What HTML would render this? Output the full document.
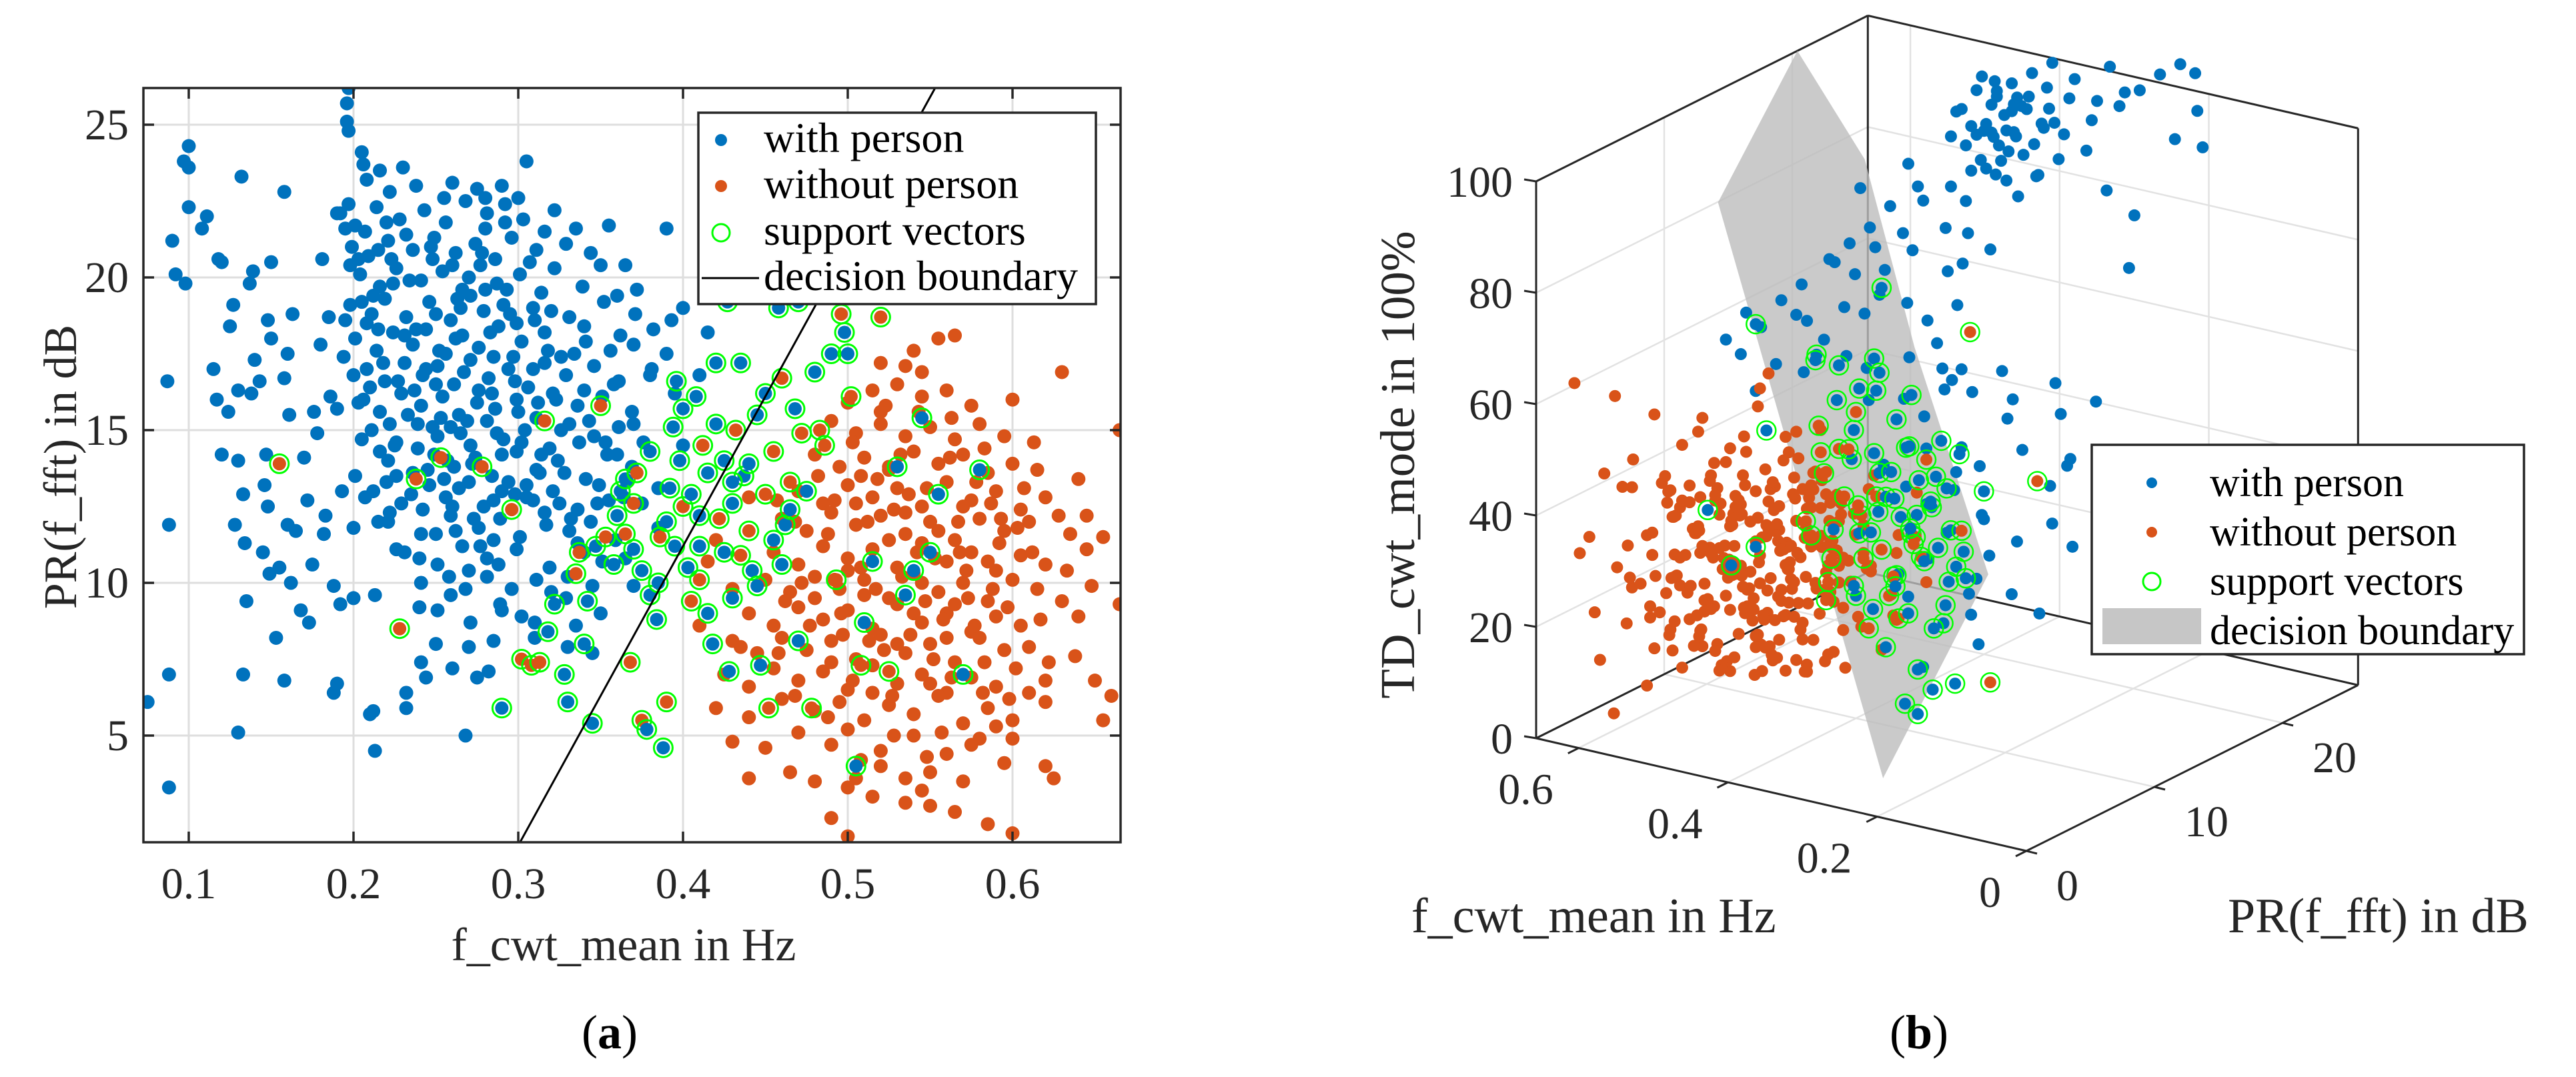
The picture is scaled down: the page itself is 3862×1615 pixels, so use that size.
<!DOCTYPE html>
<html><head><meta charset="utf-8">
<style>
html,body{margin:0;padding:0;background:#fff;}
svg{display:block;}
svg text{font-family:"Liberation Serif","Times New Roman","Noto Serif CJK SC",serif !important;}
</style></head>
<body>
<svg id="chart" width="3862" height="1615" viewBox="0 0 3862 1615" xmlns="http://www.w3.org/2000/svg">
<defs><clipPath id="clipA"><rect x="215" y="132" width="1465" height="1131"/></clipPath></defs>
<rect x="0" y="0" width="3862" height="1615" fill="#fff"/>
<g id="panelA"></g>
<g id="panelB"></g>
<text x="98" y="700" font-size="70" fill="#262626" text-anchor="middle" transform="rotate(-90 98 700)" dominant-baseline="middle">PR(f_fft) in dB</text>
<text x="935" y="1440" font-size="70" fill="#262626" text-anchor="middle">f_cwt_mean in Hz</text>
<text x="914" y="1572" font-size="72" fill="#000" text-anchor="middle">(<tspan font-weight="bold">a</tspan>)</text>
<text x="2103" y="697" font-size="73" fill="#262626" text-anchor="middle" transform="rotate(-90 2103 697)" dominant-baseline="middle">TD_cwt_mode in 100%</text>
<text x="2116" y="1398" font-size="74" fill="#262626">f_cwt_mean in Hz</text>
<text x="3340" y="1398" font-size="74" fill="#262626">PR(f_fft) in dB</text>
<text x="2877" y="1572" font-size="72" fill="#000" text-anchor="middle">(<tspan font-weight="bold">b</tspan>)</text>
</svg>
<script>
// ---------- Panel (a) data ----------
const xTicksA=[0.1,0.2,0.3,0.4,0.5,0.6];
const yTicksA=[5,10,15,20,25];
const boundaryA=[0.301,1.5,0.553,26.2];
const withPersonA=[
0.075,6.1,0.088,3.3,0.088,7.0,0.088,11.9,0.087,16.6,0.09,21.2,0.092,20.1,0.098,19.8,0.097,23.8,0.1,24.3,0.1,23.6,0.1,22.3,0.108,21.6,0.111,22.0,0.115,17.0,0.117,16.0,0.118,20.6,0.12,20.5,0.12,14.2,0.124,15.6,0.125,18.4,0.127,19.1,0.128,11.9,0.13,5.1,0.13,14.0,0.13,16.3,0.132,23.3,0.133,12.9,0.134,11.3,0.133,7.0,0.135,9.4,0.138,16.2,0.137,19.8,0.139,20.2,0.14,17.3,0.143,16.6,0.145,11.0,0.146,13.2,0.147,14.2,0.148,18.6,0.148,12.5,0.149,10.3,0.15,18.0,0.15,20.5,0.153,8.2,0.155,10.5,0.158,22.8,0.158,16.7,0.158,6.8,0.16,11.9,0.16,17.5,0.161,15.5,0.162,10.0,0.163,18.8,0.165,11.7,0.168,9.1,0.17,14.1,0.172,12.7,0.173,8.7,0.175,10.6,0.176,15.6,0.178,14.9,0.18,17.8,0.181,20.6,0.182,11.6,0.183,12.2,0.185,18.7,0.186,16.1,0.188,9.9,0.188,6.4,0.19,15.7,0.19,6.7,0.192,22.1,0.192,9.3,0.193,13.0,0.194,17.4,0.195,21.6,0.196,25.7,0.196,25.1,0.197,26.2,0.197,24.8,0.197,22.4,0.198,20.4,0.2,11.8,0.2,9.5,0.201,13.5,0.203,15.9,0.205,19.2,0.205,24.1,0.206,23.7,0.207,12.8,0.208,18.5,0.21,5.7,0.212,5.8,0.213,4.5,0.213,9.6,0.215,20.9,0.216,23.5,0.22,21.8,0.222,12.3,0.225,14.5,0.23,23.6,0.232,6.4,0.232,5.9,0.24,9.2,0.241,7.4,0.244,6.9,0.25,8.0,0.26,7.2,0.268,5.0,0.27,7.9,0.275,6.9,0.282,7.1,0.285,8.1,0.29,9.1,0.305,23.8,0.31,8.7,0.28,22.6,
0.19,22.1,0.201,21.7,0.214,22.3,0.228,21.9,0.243,22.2,0.256,21.8,0.268,22.5,0.281,22.1,0.292,22.4,0.303,21.9,
0.199,21.0,0.209,20.7,0.221,21.2,0.236,20.9,0.249,21.3,0.262,20.8,0.274,21.1,0.286,20.6,0.296,21.3,0.311,20.9,0.329,21.1,0.344,20.8,
0.204,20.1,0.216,19.7,0.226,20.3,0.241,19.9,0.254,20.2,0.266,19.6,0.277,20.4,0.287,19.8,0.301,20.1,0.314,19.5,0.322,20.3,0.339,19.7,
0.198,19.1,0.211,18.8,0.219,19.3,0.232,18.7,0.246,19.2,0.259,18.6,0.271,19.4,0.279,18.9,0.291,19.1,0.299,18.5,0.309,19.0,0.331,18.7,0.352,19.2,0.371,18.8,
0.201,18.0,0.214,17.6,0.224,18.2,0.236,17.8,0.244,18.3,0.256,17.5,0.266,18.1,0.276,17.7,0.288,18.4,0.302,17.9,0.316,18.2,0.326,17.4,0.341,17.9,0.356,17.6,
0.208,17.0,0.219,16.6,0.231,17.2,0.242,16.8,0.251,17.1,0.261,16.5,0.271,17.3,0.282,16.7,0.294,17.0,0.306,16.4,0.316,17.2,0.329,16.8,0.346,17.1,0.361,16.6,0.381,17.0,
0.206,16.0,0.216,15.6,0.229,16.2,0.241,15.8,0.254,16.1,0.264,15.5,0.276,16.3,0.286,15.7,0.299,16.0,0.311,15.4,0.321,16.2,0.336,15.8,0.351,16.1,0.369,15.6,
0.211,15.0,0.226,14.6,0.239,15.2,0.251,14.8,0.259,15.1,0.271,14.5,0.281,15.3,0.291,14.7,0.304,15.0,0.319,14.4,0.331,15.2,0.346,14.8,0.361,15.1,0.376,14.6,
0.221,14.0,0.236,13.6,0.249,14.2,0.261,13.8,0.274,14.1,0.284,13.5,0.299,14.3,0.311,13.7,0.324,14.0,0.341,13.4,0.354,14.2,0.369,13.8,
0.212,13.0,0.229,12.6,0.246,13.2,0.256,12.8,0.264,13.1,0.279,12.5,0.294,13.3,0.309,12.7,0.321,13.0,0.336,12.4,0.349,13.2,0.364,12.8,
0.221,12.0,0.241,11.6,0.259,12.2,0.276,11.8,0.289,12.1,0.301,11.5,0.316,12.3,0.331,11.7,0.344,12.0,0.359,11.4,
0.231,11.0,0.251,10.6,0.266,11.2,0.281,10.8,0.299,11.1,0.319,10.5,0.336,11.3,0.351,10.7,
0.241,10.0,0.259,9.6,0.281,10.2,0.296,9.8,0.311,10.1,0.329,9.5,
0.251,9.1,0.271,8.7,0.289,9.3,0.302,8.9,
0.207,21.5,0.223,20.6,0.248,20.6,0.27,20.0,0.293,19.6,0.215,18.3,0.238,18.3,0.262,18.0,0.285,17.4,0.227,16.6,0.25,16.5,0.275,15.9,0.3,15.6,0.233,15.5,0.265,14.9,0.29,14.2,0.245,13.7,0.27,13.3,0.305,13.2,0.26,12.5,0.285,11.4,0.325,12.6,0.34,16.3,0.318,17.6,0.31,18.6,0.28,21.6,0.255,22.6,0.265,19.0,
0.365,20.4,0.372,19.6,0.39,21.6,0.393,18.6,0.4,19.0,0.37,17.8,0.382,18.3,0.395,16.2,0.38,16.8,0.41,16.8,0.415,18.2,0.36,14.2,0.375,12.6,0.385,13.1,0.365,10.8,0.37,9.9,0.385,11.8,0.39,17.5,0.4,14.5,
0.33,7.9,0.335,8.6,0.345,7.7,0.35,9.0,0.31,8.2,0.32,9.7,
0.203,20.6,0.212,19.4,0.218,17.2,0.222,15.2,0.226,13.5,0.232,21.4,0.234,19.9,0.237,16.3,0.239,14.4,0.242,12.4,0.247,21.0,0.25,18.8,0.252,17.6,0.253,15.4,0.257,14.0,0.26,20.4,0.263,19.3,0.267,16.9,0.269,15.3,0.272,13.9,0.273,12.1,0.278,20.8,0.28,19.6,0.283,18.2,0.284,16.2,0.287,14.9,0.29,13.0,0.292,21.8,0.295,18.8,0.297,17.4,0.298,16.6,0.302,14.6,0.305,12.8,0.307,20.5,0.309,17.0,0.312,15.9,0.314,14.2,0.317,11.9,0.32,18.9,0.323,16.0,0.326,15.0,0.328,13.6,0.332,12.1,0.334,17.5,0.337,14.6,0.34,18.4,0.343,15.3,0.348,12.6,0.353,14.6,0.358,16.5,0.362,18.1,0.366,13.3,0.37,15.2,0.21,16.4,0.216,14.3,0.22,13.3,0.224,19.8,0.231,18.1,0.244,17.0,0.248,15.1,0.255,13.4,0.262,11.7,0.27,10.4,0.277,11.2,0.288,10.6,0.298,12.9,0.24,10.8,0.25,11.6,0.258,10.2,0.268,9.8,0.235,12.9,0.226,11.1,0.215,12.0,0.205,14.7,0.2,16.8,0.195,18.6,0.208,23.2,0.222,22.8,0.238,23.0,0.26,23.1,0.275,22.9,0.29,23.0,0.3,22.6,0.316,21.5,0.322,22.2,0.335,21.6,0.35,20.4,0.355,21.7,0.36,19.4,0.313,13.6,0.285,12.7,0.33,10.2,0.345,9.9,0.34,11.0,0.355,12.7
];
const withoutPersonA=[
0.52,17.2,0.54,17.6,0.555,18.0,0.565,18.1,0.535,17.1,0.6,16.0,0.63,16.9,0.545,16.9,
0.5,15.9,0.515,16.3,0.53,16.5,0.545,16.1,0.56,16.3,0.575,15.8,0.52,15.6,
0.49,15.3,0.505,14.9,0.52,15.2,0.535,14.8,0.55,15.1,0.565,14.7,0.58,15.2,0.595,14.8,0.665,15.0,
0.48,14.2,0.495,13.8,0.51,14.1,0.525,13.7,0.54,14.3,0.555,13.9,0.57,14.2,0.585,13.6,0.6,13.9,0.615,13.7,0.64,13.4,
0.47,13.0,0.485,12.6,0.5,13.2,0.515,12.8,0.53,13.1,0.545,12.5,0.56,13.3,0.575,12.7,0.59,13.0,0.605,12.4,0.62,12.8,0.645,12.2,
0.46,12.1,0.475,11.7,0.49,12.3,0.505,11.9,0.52,12.2,0.535,11.6,0.55,12.0,0.565,11.4,0.58,12.1,0.595,11.7,0.61,12.0,0.635,11.6,0.655,11.5,
0.455,11.0,0.47,10.6,0.485,11.2,0.5,10.8,0.515,11.1,0.53,10.5,0.545,11.3,0.56,10.7,0.575,11.0,0.59,10.4,0.605,10.9,0.62,10.6,0.645,11.1,
0.45,10.1,0.465,9.7,0.48,10.2,0.495,9.8,0.51,10.1,0.525,9.5,0.54,10.3,0.555,9.7,0.57,10.0,0.585,9.4,0.6,10.1,0.615,9.8,0.665,9.3,
0.44,9.0,0.455,8.6,0.47,9.2,0.485,8.8,0.5,9.1,0.515,8.5,0.53,9.3,0.545,8.7,0.56,9.0,0.575,8.4,0.59,8.9,0.605,8.6,0.63,9.4,0.64,8.9,
0.43,8.1,0.445,7.7,0.46,8.2,0.475,7.8,0.49,8.1,0.505,7.5,0.52,8.3,0.535,7.7,0.55,8.0,0.565,7.4,0.58,8.2,0.595,7.8,0.61,7.9,
0.425,7.0,0.44,6.6,0.455,7.2,0.47,6.8,0.485,7.1,0.5,6.5,0.515,7.3,0.53,6.7,0.545,7.0,0.56,6.4,0.575,6.9,0.59,6.6,0.62,6.8,0.65,6.8,
0.42,5.9,0.44,5.6,0.46,6.2,0.48,5.8,0.495,6.1,0.51,5.5,0.525,6.0,0.54,5.7,0.555,6.3,0.57,5.4,0.585,5.9,0.6,5.5,0.62,6.1,0.66,6.3,
0.43,4.8,0.45,4.6,0.47,5.1,0.49,4.7,0.5,5.2,0.52,4.5,0.54,5.0,0.56,4.4,0.58,4.9,0.6,4.9,0.655,5.5,
0.44,3.6,0.465,3.8,0.48,3.5,0.5,3.3,0.52,4.0,0.535,3.6,0.55,3.8,0.57,3.5,0.595,4.1,0.625,3.6,0.62,4.0,
0.49,2.3,0.5,1.7,0.515,3.0,0.535,2.8,0.55,2.7,0.565,2.5,0.585,2.1,0.6,1.8,
0.505,12.6,0.525,11.4,0.545,10.0,0.565,9.3,0.51,9.6,0.53,8.0,0.55,6.7,0.49,7.4,0.57,12.5,0.525,13.8,0.5,10.4,0.54,9.0,0.56,8.2,0.585,10.7,0.48,9.5,0.515,6.4,0.535,12.3,0.555,11.7,
0.42,11.4,0.43,9.8,0.41,8.6,0.44,12.8,0.415,10.7,0.435,7.9,
0.482,13.5,0.488,11.6,0.492,10.1,0.497,8.3,0.503,6.8,0.508,13.5,0.512,12.0,0.517,9.8,0.522,7.8,0.527,6.3,0.532,14.2,0.537,12.9,0.542,11.0,0.547,9.4,0.552,7.5,0.557,5.1,0.562,14.1,0.567,12.0,0.572,10.4,0.577,8.6,0.582,6.4,0.587,12.6,0.592,11.3,0.597,9.2,0.602,7.2,0.607,13.1,0.612,11.0,0.617,8.8,0.622,7.4,0.492,12.7,0.496,9.0,0.508,10.5,0.513,8.1,0.518,13.4,0.528,12.4,0.533,10.2,0.538,8.3,0.548,13.1,0.553,10.8,0.558,8.8,0.563,6.9,0.568,11.0,0.573,9.5,0.578,13.3,0.583,7.4,0.588,9.8,0.593,12.1,0.598,6.2,0.603,11.8,0.468,12.0,0.472,10.0,0.477,8.6,0.462,9.4,0.457,12.7,0.503,14.6,0.523,15.8,0.543,15.6,0.563,15.4,0.583,14.4,0.613,14.6,0.628,12.2,0.633,10.4,0.638,7.6,0.648,9.9,0.528,5.0,0.548,4.3,0.508,4.2,0.488,5.6,0.468,6.3,0.458,7.7,0.505,3.6,0.545,3.2,0.575,4.7,0.59,5.3,0.61,6.4
];
const supportVectorsA=[
0.155,13.9,1,0.228,8.5,1,0.238,13.4,1,0.253,14.1,1,0.278,13.8,1,0.29,5.9,0,0.296,12.4,1,0.316,15.3,1,0.302,7.5,1,0.308,7.3,1,0.313,7.4,1,0.318,8.4,0,0.322,9.3,0,0.328,7.0,0,0.33,6.1,0,0.335,10.3,1,0.337,11.0,1,0.34,8.0,0,0.342,9.4,0,0.345,5.4,0,0.347,11.2,0,0.35,15.8,1,0.353,11.5,1,0.358,10.6,0,0.362,13.0,0,0.365,13.4,0,0.368,7.4,1,0.37,12.6,1,0.372,13.6,1,0.375,5.5,1,0.378,5.2,0,0.38,9.6,0,0.384,8.8,0,0.386,11.5,1,0.388,4.6,0,0.39,6.1,1,0.392,13.1,0,0.394,15.1,0,0.396,16.6,0,0.398,14.0,0,0.4,12.5,1,0.403,10.5,0,0.405,9.4,1,0.408,16.1,0,0.41,11.2,0,0.412,14.5,1,0.415,13.6,0,0.418,8.0,0,0.42,17.2,0,0.422,12.1,1,0.425,11.0,0,0.428,7.1,0,0.43,9.5,0,0.432,15.0,1,0.435,17.2,0,0.437,13.5,0,0.44,11.7,1,0.442,10.4,0,0.445,15.5,0,0.447,7.3,0,0.45,12.9,1,0.452,5.9,1,0.455,14.3,1,0.458,19.0,0,0.46,16.7,1,0.462,11.9,0,0.465,13.3,1,0.468,15.7,0,0.47,8.1,0,0.472,14.9,1,0.475,13.0,0,0.478,5.9,1,0.48,16.9,0,0.483,15.0,1,0.486,14.5,1,0.49,17.5,0,0.493,10.1,1,0.496,18.8,1,0.498,18.2,0,0.5,17.5,0,0.502,16.1,1,0.505,4.0,0,0.508,7.3,1,0.51,8.7,0,0.515,10.7,0,0.52,18.7,1,0.53,13.8,0,0.535,9.6,0,0.54,10.4,0,0.545,15.4,0,0.55,11.0,0,0.555,12.9,0,0.57,7.0,0,0.58,13.7,0,0.525,7.1,1,0.47,19.2,0,0.427,19.2,0,
0.36,12.2,0,0.365,11.6,1,0.375,10.4,0,0.38,14.3,0,0.395,11.2,0,0.405,12.9,0,0.41,10.1,1,0.415,9.0,0,0.425,14.0,0,0.43,12.6,0,0.435,10.9,1,0.44,13.9,0,0.445,9.9,0,0.455,11.4,0,0.46,10.6,0,0.465,12.4,0,0.42,15.2,0,0.4,15.7,0,0.39,12.0,0,0.385,10.0,0,0.37,11.1,0,0.45,16.2,0,0.43,13.3,0,0.41,12.2,0
];
// ---------- Panel (b) data ----------
const fTicksB=[0,0.2,0.4,0.6];
const pTicksB=[0,10,20];
const zTicksB=[0,20,40,60,80,100];
const fRangeB=[0,0.657], pRangeB=[0,25.9], zRangeB=[0,100];
const planeB=[0.657,20.4,100, 0.396,10.45,100, 0.15,0,85.9, 0.051,0,48.1, 0.265,4.25,0, 0.657,14.2,79.9];
const withPersonB=[
0.32,20,97,0.33,21,99,0.34,19,96,0.35,20,100,0.36,21,98,0.37,19,95,0.33,19,93,0.35,22,101,0.38,21,97,0.31,21,95,0.34,20,102,0.36,19,91,0.32,22,100,0.37,22,103,0.39,20,94,0.3,20,92,0.35,18,90,0.33,23,102,0.4,21,99,0.38,19,89,0.31,19,90,0.36,23,104,0.34,22,95,0.41,20,93,0.29,22,97,0.28,21,93,0.27,23,99,0.26,24,101,0.25,25,103,0.3,24,104,0.42,22,100,0.4,19,88,0.37,20,86,0.35,21,92,0.39,22,98,0.33,20,88,0.32,18,87,0.3,23,99,0.28,24,100,0.36,20,95,
0.24,26,104,0.22,26,103,0.2,25,98,0.23,25,92,0.21,26,90,0.27,22,85,0.25,23,80,0.24,22,72,
0.42,16,88,0.44,15,85,0.45,14,82,0.43,17,84,0.46,13,80,0.47,12,78,0.48,13,76,0.46,15,77,0.44,16,79,0.49,11,74,0.5,10,72,0.48,10,70,0.47,14,73,0.51,9,68,0.5,12,66,0.45,12,70,0.43,14,75,0.41,15,78,0.4,17,80,0.42,13,72,0.52,8,64,0.49,9,62,0.46,11,65,0.44,13,68,0.4,14,70,0.38,16,74,0.39,15,66,0.43,11,63,0.47,10,60,0.5,8,58,0.41,18,86,0.39,18,84,0.37,17,80,0.36,16,76,0.45,17,90,0.48,15,87,0.53,9,70,0.54,8,66,0.42,12,60,0.38,13,62,0.36,14,64,0.35,15,70,0.34,17,78,0.37,15,58,0.4,11,56,
0.3,14,35,0.32,13,40,0.28,16,45,0.26,17,38,0.3,16,50,0.34,12,48,0.27,15,30,0.25,18,42,0.29,13,25,0.33,15,55,0.31,17,52,0.24,16,33,0.28,12,20,0.35,11,42,0.36,13,52,0.22,19,40,0.23,17,28,0.26,14,22,0.32,11,30,0.3,12,45,0.27,18,55,0.25,20,50,0.2,20,35,0.21,18,25,0.34,14,58,0.29,15,60,0.31,13,62,0.24,15,18,0.33,10,24,0.37,12,56,0.22,16,44,0.28,19,48,
0.38,11,45,0.34,12,38,0.31,13,48,0.36,11,26,0.33,13,32,0.3,13,22,0.28,13,36,0.35,14,56,0.32,15,42,0.29,14,28,0.27,12,15,0.31,10,12,
0.38,19,97,0.39,20,99,0.4,19,96,0.41,20,101,0.37,20,95,0.36,21,98,0.39,18,94,0.42,19,98,0.38,21,102,0.4,21,100,0.35,19,93,0.37,18,92,0.41,18,95,0.43,20,97,0.36,20,100,0.38,20,92,0.34,21,96,0.4,20,94,0.42,21,102,0.39,21,96
];
const withoutPersonB=[
0.50,6,10,0.46,8,9,0.43,10,11,0.53,4,12,0.48,10,8,0.40,12,10,0.56,3,9,0.45,5,12,0.51,9,11,
0.52,5,15,0.48,7,16,0.44,9,14,0.41,11,15,0.55,3,16,0.47,4,15,0.50,8,14,0.58,6,15,0.42,7,17,0.38,12,16,
0.54,4,20,0.50,6,21,0.46,8,19,0.43,10,20,0.57,2,21,0.49,3,20,0.52,9,19,0.45,6,22,0.40,9,21,0.59,5,20,0.47,11,20,0.37,11,22,
0.55,5,25,0.51,7,26,0.47,9,24,0.44,11,25,0.58,3,26,0.50,4,25,0.53,10,24,0.46,6,27,0.41,8,25,0.60,6,24,0.48,12,26,0.38,10,27,0.56,8,27,
0.54,6,30,0.50,8,31,0.46,10,29,0.43,12,30,0.57,4,31,0.49,5,30,0.52,11,29,0.45,7,32,0.40,9,30,0.60,3,29,0.47,12,31,0.55,9,32,0.62,5,30,
0.53,5,35,0.49,7,36,0.45,9,34,0.42,11,35,0.56,3,36,0.48,4,35,0.51,10,34,0.44,6,37,0.39,10,35,0.59,7,34,0.46,12,36,0.62,2,35,
0.52,6,40,0.48,8,41,0.44,10,39,0.55,4,41,0.47,5,40,0.50,11,39,0.43,7,42,0.58,6,40,0.41,12,41,0.61,4,42,
0.51,5,45,0.47,7,46,0.44,9,44,0.54,3,46,0.49,10,45,0.57,5,44,0.42,8,46,0.60,2,47,
0.50,6,50,0.46,8,51,0.53,4,52,0.48,10,49,0.56,7,50,0.43,9,52,
0.52,5,56,0.48,7,57,0.55,3,58,0.50,9,60,0.46,6,62,
0.62,4,58,0.64,2,62,0.63,6,44,0.65,3,30,0.63,3,20,0.62,8,18,0.64,4,10,0.6,9,8,0.58,10,4,0.55,12,6,0.5,12,3,0.57,1,6,
0.38,12,28,0.36,11,33,0.34,12,24,0.4,11,40,0.37,13,38,0.35,10,20,
0.51,6,28,0.49,9,33,0.47,8,22,0.53,7,38,0.45,11,28,0.52,3,30,0.5,10,18,0.48,6,44,0.55,6,34,0.46,4,33,0.44,8,30,0.42,10,38,
0.49,7,27,0.47,8,32,0.51,5,33,0.45,9,25,0.53,6,22,0.48,5,38,0.46,10,36,0.52,8,26,0.5,9,37,0.44,7,29,0.54,4,28,0.47,6,20,0.49,10,24,0.51,7,40,0.45,8,41,0.43,9,33,0.53,8,35,0.48,9,29,0.5,4,23,0.46,5,27,0.52,10,31,0.44,11,22,0.42,8,26,0.55,5,39,0.47,11,28,0.5,7,44,0.46,9,46,0.52,4,42,0.48,11,36,0.43,6,35,0.45,4,31,0.51,11,27,0.49,8,18,0.53,9,45,0.44,10,43,0.47,3,26,0.41,10,28,0.4,8,34,0.42,12,24,0.39,9,26,
0.38,8,12,0.38,5,16,0.38,9,20,0.38,6,24,0.38,10,28,0.38,4,32,0.38,7,36,0.38,9,40,0.38,5,44,
0.40,6,13,0.40,9,17,0.40,4,21,0.40,8,25,0.40,5,29,0.40,10,33,0.40,6,37,0.40,8,41,0.40,4,45,
0.42,9,12,0.42,5,16,0.42,7,20,0.42,4,24,0.42,9,28,0.42,6,32,0.42,10,36,0.42,5,40,0.42,7,44,
0.44,5,13,0.44,8,17,0.44,6,21,0.44,10,25,0.44,4,29,0.44,7,33,0.44,5,37,0.44,9,41,0.44,6,45,
0.46,7,12,0.46,4,16,0.46,9,20,0.46,5,24,0.46,8,28,0.46,6,32,0.46,4,36,0.46,10,40,0.46,7,44,
0.48,4,13,0.48,9,17,0.48,6,21,0.48,8,25,0.48,5,29,0.48,10,33,0.48,7,37,0.48,4,41,0.48,9,45,
0.50,8,12,0.50,5,16,0.50,10,20,0.50,7,24,0.50,4,28,0.50,9,32,0.50,6,36,0.50,8,40,0.50,5,44,
0.52,6,13,0.52,9,17,0.52,4,21,0.52,7,25,0.52,10,29,0.52,5,33,0.52,8,37,0.52,6,41,0.52,4,45,
0.54,9,12,0.54,6,16,0.54,8,20,0.54,5,24,0.54,7,28,0.54,4,32,0.54,9,36,0.54,6,40,0.54,8,44,
0.56,5,13,0.56,8,17,0.56,4,21,0.56,9,25,0.56,6,29,0.56,7,33,0.56,5,37,0.56,8,41,
0.39,7,14,0.41,4,18,0.43,8,22,0.45,6,26,0.47,9,30,0.49,5,34,0.51,7,38,0.53,4,42,0.55,10,46,
0.39,10,30,0.41,6,34,0.43,9,38,0.45,4,42,0.47,7,14,0.49,10,18,0.51,4,22,0.53,8,26,0.55,5,30,
0.57,7,22,0.57,4,35,0.58,8,30,0.59,5,18,0.6,7,38,0.6,4,26,0.58,3,44,0.61,8,32,0.62,6,22,0.59,10,40,
0.43,3,27,0.45,3,35,0.47,2,23,0.49,3,39,0.51,2,31,0.53,3,19,0.44,11,33,0.46,12,26,0.48,12,38,0.5,11,14
];
const supportVectorsB=[
0.44,10,20,1,0.40,10,22,0,0.36,11,18,1,0.33,10,21,0,0.30,11,19,0,
0.45,11,26,1,0.42,9,25,1,0.38,12,24,0,0.35,10,27,1,0.31,12,25,0,0.28,10,24,0,
0.46,10,31,1,0.43,12,30,0,0.39,10,29,1,0.36,12,32,0,0.33,11,30,1,0.29,12,31,0,
0.45,12,36,1,0.41,11,35,1,0.38,10,34,0,0.35,13,36,0,0.32,10,35,1,0.29,11,36,0,
0.46,11,41,1,0.42,13,40,0,0.39,11,39,1,0.36,10,41,0,0.33,13,40,0,0.30,10,42,0,
0.44,11,46,1,0.41,12,45,0,0.37,11,44,0,0.34,12,46,1,0.31,11,45,0,
0.45,10,51,1,0.42,11,50,0,0.38,12,52,0,0.35,11,49,0,
0.43,12,56,0,0.40,10,55,1,0.36,12,57,0,0.44,11,61,0,0.41,12,62,0,
0.40,11,15,1,0.36,10,14,0,0.33,12,16,0,0.30,9,13,0,
0.5,8,70,0,0.4,12,75,0,0.47,11,62,0,0.35,16,64,1,0.26,16,40,1,0.3,8,8,0,0.28,9,10,0,0.25,9,12,0,0.22,10,12,1,0.3,9,5,0,0.42,8,66,0,0.53,6,38,0,0.5,8,30,0,0.55,9,24,0,0.52,10,48,0,
0.43,10,33,0,0.40,12,28,1,0.37,13,34,0,0.34,10,38,0,0.31,13,33,1,0.44,12,43,0,0.41,10,48,1,0.38,13,46,0,0.35,12,42,0,0.32,12,50,0,0.42,11,22,0,0.39,12,20,1,0.36,13,26,0,0.33,9,27,0,0.30,12,28,0,0.46,12,53,0,0.43,9,48,1,0.37,10,38,0,0.34,11,32,1,0.31,9,38,0,0.45,9,35,1,0.40,13,36,0,0.38,9,40,1,0.36,9,22,0,0.33,14,45,0,0.29,10,34,0,0.27,11,28,0,0.28,13,41,0,0.42,13,58,0,0.39,11,58,0
];

// ---------- helpers ----------
const NS='http://www.w3.org/2000/svg';
function mk(tag, attrs, parent){
  const e=document.createElementNS(NS,tag);
  for(const k in attrs) e.setAttribute(k, attrs[k]);
  parent.appendChild(e);
  return e;
}
const BLUE='#0072BD', ORANGE='#D95319', GREEN='#00FF00', AX='#262626', GRID='#dedede';

// ---------- Panel (a) ----------
const gA=document.getElementById('panelA');
const A={x0:215,x1:1680,y0:132,y1:1263};
function sxA(v){return 283+(v-0.1)*2470;}
function syA(v){return 187+(25-v)*45.8;}

xTicksA.forEach(t=>{
  const gl=mk('line',{x1:sxA(t),x2:sxA(t),y1:A.y0,y2:A.y1,stroke:GRID,'stroke-width':3},gA);
  
  
});
yTicksA.forEach(t=>{
  const gl=mk('line',{x1:A.x0,x2:A.x1,y1:syA(t),y2:syA(t),stroke:GRID,'stroke-width':3},gA);
  
  
});
const plotA=mk('g',{'clip-path':'url(#clipA)'},gA);


for(let i=0;i<withPersonA.length;i+=2){
  const c=mk('circle',{cx:sxA(withPersonA[i]),cy:syA(withPersonA[i+1]),r:10.5,fill:BLUE},plotA);
  
  
}
for(let i=0;i<withoutPersonA.length;i+=2){
  const c=mk('circle',{cx:sxA(withoutPersonA[i]),cy:syA(withoutPersonA[i+1]),r:10.5,fill:ORANGE},plotA);
  
  
}
for(let i=0;i<supportVectorsA.length;i+=3){
  const x=sxA(supportVectorsA[i]), y=syA(supportVectorsA[i+1]);
  const d=mk('circle',{cx:x,cy:y,r:10,fill:supportVectorsA[i+2]?ORANGE:BLUE},plotA);
  
  
  const r=mk('circle',{cx:x,cy:y,r:14,fill:'none',stroke:GREEN,'stroke-width':3},plotA);
  
  
}
const bl=mk('line',{x1:sxA(boundaryA[0]),y1:syA(boundaryA[1]),x2:sxA(boundaryA[2]),y2:syA(boundaryA[3]),stroke:'#000','stroke-width':3},plotA);



const boxA=mk('rect',{x:A.x0,y:A.y0,width:A.x1-A.x0,height:A.y1-A.y0,fill:'none',stroke:AX,'stroke-width':3.5},gA);


xTicksA.forEach(t=>{
  const x=sxA(t);
  const tk=mk('path',{d:`M${x},${A.y1}v-16M${x},${A.y0}v16`,stroke:AX,'stroke-width':3.5},gA);
  
  
  const lb=mk('text',{x:x,y:1347,'font-size':66,fill:AX,'text-anchor':'middle'},gA);
  lb.textContent=String(t);
  
  
});
yTicksA.forEach(t=>{
  const y=syA(t);
  const tk=mk('path',{d:`M${A.x0},${y}h16M${A.x1},${y}h-16`,stroke:AX,'stroke-width':3.5},gA);
  
  
  const lb=mk('text',{x:193,y:y+22,'font-size':66,fill:AX,'text-anchor':'end'},gA);
  lb.textContent=String(t);
  
  
});
const legA=mk('g',{},gA);


const lbA=mk('rect',{x:1047,y:169,width:596,height:287,fill:'#fff',stroke:AX,'stroke-width':3.5},legA);


const legItemsA=['with person','without person','support vectors','decision boundary'];
const legRowsA=[228,297,367,435];
legItemsA.forEach((s,i)=>{
  const y=legRowsA[i]-18;
  let m;
  if(i===0) m=mk('circle',{cx:1081,cy:y,r:9,fill:BLUE},legA);
  else if(i===1) m=mk('circle',{cx:1081,cy:y,r:9,fill:ORANGE},legA);
  else if(i===2) m=mk('circle',{cx:1081,cy:y,r:13,fill:'none',stroke:GREEN,'stroke-width':3},legA);
  else m=mk('line',{x1:1052,x2:1138,y1:y,y2:y,stroke:'#000','stroke-width':3},legA);
  
  
  const t=mk('text',{x:1145,y:legRowsA[i],'font-size':64,fill:'#000'},legA);
  t.textContent=s;
  
  
});

// ---------- Panel (b) ----------
const gB=document.getElementById('panelB');
function px(f,p,z){return 3038-1118.7*f+19.2*p;}
function py(f,p,z){return 1276-257.2*f-9.6*p-8.35*z;}
function seg(a,b,attrs,name){
  const l=mk('line',Object.assign({x1:px(...a),y1:py(...a),x2:px(...b),y2:py(...b)},attrs),gB);
  
  
  return l;
}
const FM=fRangeB[1], PM=pRangeB[1], ZM=zRangeB[1];
const gridAttr={stroke:'#e2e2e2','stroke-width':2.5};
pTicksB.slice(1).forEach(p=>seg([FM,p,0],[FM,p,ZM],gridAttr,'grid-line-b'));
zTicksB.slice(1).forEach(z=>seg([FM,0,z],[FM,PM,z],gridAttr,'grid-line-b'));
fTicksB.slice(1).forEach(f=>seg([f,PM,0],[f,PM,ZM],gridAttr,'grid-line-b'));
zTicksB.slice(1).forEach(z=>seg([0,PM,z],[FM,PM,z],gridAttr,'grid-line-b'));
fTicksB.slice(1).forEach(f=>seg([f,0,0],[f,PM,0],gridAttr,'grid-line-b'));
pTicksB.slice(1).forEach(p=>seg([0,p,0],[FM,p,0],gridAttr,'grid-line-b'));
const edgeAttr={stroke:AX,'stroke-width':3};
seg([FM,PM,0],[FM,PM,ZM],edgeAttr,'box-edge-b');
seg([FM,PM,0],[0,PM,0],edgeAttr,'box-edge-b');
seg([FM,0,0],[FM,PM,0],edgeAttr,'box-edge-b');
seg([FM,0,ZM],[FM,PM,ZM],edgeAttr,'box-edge-b');
seg([FM,PM,ZM],[0,PM,ZM],edgeAttr,'box-edge-b');
seg([0,PM,0],[0,PM,ZM],edgeAttr,'box-edge-b');
let pts=[];
for(let i=0;i<planeB.length;i+=3) pts.push(px(planeB[i],planeB[i+1],planeB[i+2]).toFixed(1)+','+py(planeB[i],planeB[i+1],planeB[i+2]).toFixed(1));
const plane=mk('polygon',{points:pts.join(' '),fill:'#bdbdbd','fill-opacity':0.8},gB);


for(let i=0;i<withPersonB.length;i+=3){
  const c=mk('circle',{cx:px(withPersonB[i],withPersonB[i+1],withPersonB[i+2]),cy:py(withPersonB[i],withPersonB[i+1],withPersonB[i+2]),r:9,fill:BLUE},gB);
  
  
}
for(let i=0;i<withoutPersonB.length;i+=3){
  const c=mk('circle',{cx:px(withoutPersonB[i],withoutPersonB[i+1],withoutPersonB[i+2]),cy:py(withoutPersonB[i],withoutPersonB[i+1],withoutPersonB[i+2]),r:9,fill:ORANGE},gB);
  
  
}
for(let i=0;i<supportVectorsB.length;i+=4){
  const x=px(supportVectorsB[i],supportVectorsB[i+1],supportVectorsB[i+2]);
  const y=py(supportVectorsB[i],supportVectorsB[i+1],supportVectorsB[i+2]);
  const d=mk('circle',{cx:x,cy:y,r:9,fill:supportVectorsB[i+3]?ORANGE:BLUE},gB);
  
  
  const r=mk('circle',{cx:x,cy:y,r:14,fill:'none',stroke:GREEN,'stroke-width':2.5},gB);
  
  
}
seg([FM,0,0],[FM,0,ZM],edgeAttr,'z-axis-b');
seg([FM,0,0],[0,0,0],edgeAttr,'x-axis-b');
seg([0,0,0],[0,PM,0],edgeAttr,'y-axis-b');
zTicksB.forEach(z=>{
  const x=px(FM,0,z), y=py(FM,0,z);
  const tk=mk('line',{x1:x,y1:y,x2:x-18,y2:y-3,stroke:AX,'stroke-width':3},gB);
  
  
  const lb=mk('text',{x:2268,y:y+23,'font-size':66,fill:AX,'text-anchor':'end'},gB);
  lb.textContent=String(z);
  
  
});
fTicksB.forEach(f=>{
  const x=px(f,0,0), y=py(f,0,0);
  const tk=mk('line',{x1:x,y1:y,x2:x-16,y2:y+8,stroke:AX,'stroke-width':3},gB);
  
  
  const lb=mk('text',{x:x-38,y:y+84,'font-size':66,fill:AX,'text-anchor':'end'},gB);
  lb.textContent=String(f);
  
  
});
pTicksB.forEach(p=>{
  const x=px(0,p,0), y=py(0,p,0);
  const tk=mk('line',{x1:x,y1:y,x2:x+16,y2:y+4,stroke:AX,'stroke-width':3},gB);
  
  
  const lb=mk('text',{x:x+45,y:y+74,'font-size':66,fill:AX},gB);
  lb.textContent=String(p);
  
  
});
const legB=mk('g',{},gB);


const lbB=mk('rect',{x:3136,y:667,width:648,height:314,fill:'#fff',stroke:AX,'stroke-width':3.5},legB);


const legItemsB=['with person','without person','support vectors','decision boundary'];
const legRowsB=[744,818,892,966];
legItemsB.forEach((s,i)=>{
  const y=legRowsB[i]-20;
  let m;
  if(i===0) m=mk('circle',{cx:3226,cy:y,r:8,fill:BLUE},legB);
  else if(i===1) m=mk('circle',{cx:3226,cy:y,r:8,fill:ORANGE},legB);
  else if(i===2) m=mk('circle',{cx:3226,cy:y,r:13,fill:'none',stroke:GREEN,'stroke-width':3},legB);
  else m=mk('rect',{x:3152,y:912,width:148,height:54,fill:'#c6c6c6'},legB);
  
  
  const t=mk('text',{x:3313,y:legRowsB[i],'font-size':62,fill:'#000'},legB);
  t.textContent=s;
  
  
});
</script>
</body></html>
